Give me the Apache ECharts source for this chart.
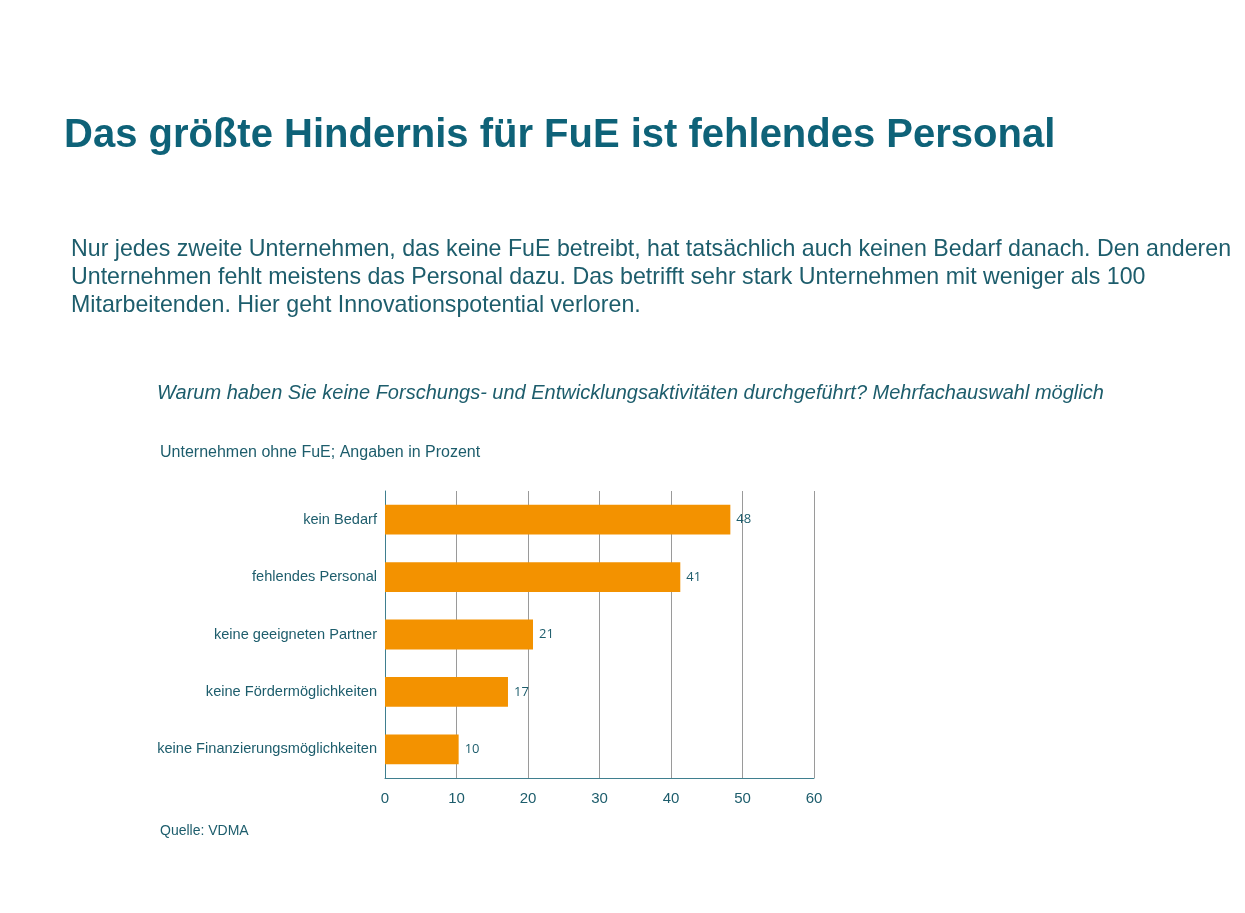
<!DOCTYPE html>
<html>
<head>
<meta charset="utf-8">
<script src="https://cdn.jsdelivr.net/npm/echarts@6/dist/echarts.min.js"></script>
<style>
  html, body { margin: 0; padding: 0; background: #fff; }
  #chart { width: 1245px; height: 913px; }
</style>
</head>
<body>
<div id="chart"></div>
<script>
const categories = [
  'kein Bedarf',
  'fehlendes Personal',
  'keine geeigneten Partner',
  'keine Fördermöglichkeiten',
  'keine Finanzierungsmöglichkeiten'
]
const values = [48.3, 41.3, 20.7, 17.2, 10.3]
const xTicks = [0, 10, 20, 30, 40, 50, 60]

const teal = '#0e6278'
const textTeal = '#1d5d6c'
const orange = '#f39200'
const font = 'Liberation Sans'

const chart = echarts.init(document.getElementById('chart'))

const option = {
  backgroundColor: '#fff',
  animation: false,
  title: [
    {
      text: 'Das größte Hindernis für FuE ist fehlendes Personal',
      left: 64, top: 116, padding: 0,
      textStyle: { fontFamily: font, fontSize: 40, fontWeight: 'bold', color: teal }
    },
    {
      text: 'Nur jedes zweite Unternehmen, das keine FuE betreibt, hat tatsächlich auch keinen Bedarf danach. Den anderen\nUnternehmen fehlt meistens das Personal dazu. Das betrifft sehr stark Unternehmen mit weniger als 100\nMitarbeitenden. Hier geht Innovationspotential verloren.',
      left: 71, top: 236, padding: 0,
      textStyle: { fontFamily: font, fontSize: 23.2, fontWeight: 'normal', color: textTeal, lineHeight: 28 }
    },
    {
      text: 'Warum haben Sie keine Forschungs- und Entwicklungsaktivitäten durchgeführt? Mehrfachauswahl möglich',
      left: 157, top: 383, padding: 0,
      textStyle: { fontFamily: font, fontSize: 20, fontStyle: 'italic', fontWeight: 'normal', color: textTeal }
    },
    {
      text: 'Unternehmen ohne FuE; Angaben in Prozent',
      left: 160, top: 445, padding: 0,
      textStyle: { fontFamily: font, fontSize: 16, fontWeight: 'normal', color: textTeal }
    },
    {
      text: 'Quelle: VDMA',
      left: 160, top: 824, padding: 0,
      textStyle: { fontFamily: font, fontSize: 14, fontWeight: 'normal', color: textTeal }
    }
  ],
  grid: { left: 385, right: 431, top: 491, bottom: 135 },
  xAxis: {
    type: 'value',
    min: 0,
    max: 60,
    interval: 10,
    axisLine: { show: true, lineStyle: { color: '#3f7f8f', width: 1 } },
    axisTick: { show: false },
    axisLabel: {
      color: textTeal, fontFamily: font, fontSize: 15, margin: 13,
      formatter: v => xTicks.includes(v) ? String(v) : ''
    },
    splitLine: { show: true, lineStyle: { color: '#9a9a9a', width: 1 } }
  },
  yAxis: {
    type: 'category',
    data: categories,
    inverse: true,
    axisLine: { show: true, lineStyle: { color: '#3f7f8f', width: 1 } },
    axisTick: { show: false },
    axisLabel: { color: textTeal, fontFamily: font, fontSize: 14.6, margin: 8 }
  },
  series: [
    {
      type: 'bar',
      data: values,
      barWidth: '52%',
      itemStyle: { color: orange },
      label: {
        show: true,
        position: 'right',
        distance: 6,
        color: textTeal,
        fontFamily: 'Open Sans',
        fontSize: 13,
        formatter: p => Math.round(p.value)
      }
    }
  ]
}

chart.setOption(option)
window.addEventListener('resize', () => chart.resize())
</script>
</body>
</html>
